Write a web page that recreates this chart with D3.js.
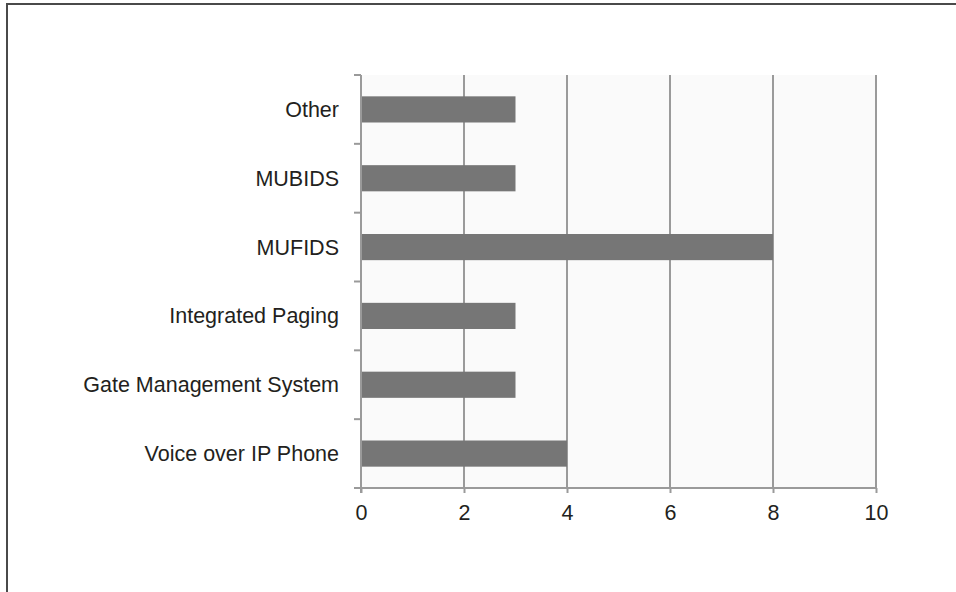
<!DOCTYPE html>
<html><head><meta charset="utf-8">
<script src="https://cdn.jsdelivr.net/npm/d3@7"></script>
<style>body{margin:0;background:#fff}svg{display:block}</style>
</head><body>
<script>
const categories = ["Other","MUBIDS","MUFIDS","Integrated Paging","Gate Management System","Voice over IP Phone"];
const values = [3,3,8,3,3,4];
const xTicks = [0,2,4,6,8,10];

const W=956,H=592;
const svg=d3.select("body").append("svg").attr("width",W).attr("height",H);
const m={l:361,r:876,t:75,b:488};
const font="'Liberation Sans', Arial, sans-serif";

// frame
svg.append("line").attr("x1",7).attr("x2",7).attr("y1",3).attr("y2",H).attr("stroke","#4a4a4a").attr("stroke-width",2);
svg.append("line").attr("x1",6).attr("x2",W).attr("y1",4).attr("y2",4).attr("stroke","#4a4a4a").attr("stroke-width",2);

const x=d3.scaleLinear().domain([0,10]).range([m.l,m.r]);
const y=d3.scaleBand().domain(categories).range([m.t,m.b]).paddingInner(0.62).paddingOuter(0.31);

svg.append("rect").attr("x",m.l).attr("y",m.t).attr("width",m.r-m.l).attr("height",m.b-m.t).attr("fill","#fafafa");

// gridlines
svg.append("g").selectAll("line").data(xTicks.slice(1)).join("line")
 .attr("x1",d=>x(d)).attr("x2",d=>x(d)).attr("y1",m.t).attr("y2",m.b)
 .attr("stroke","#9a9a9a").attr("stroke-width",2);

// bars
svg.append("g").selectAll("rect").data(values).join("rect")
 .attr("x",x(0)).attr("y",(d,i)=>y(categories[i]))
 .attr("width",d=>x(d)-x(0)).attr("height",y.bandwidth())
 .attr("fill","#767676");

// bottom axis
const xa=svg.append("g").attr("transform",`translate(0,${m.b})`)
 .call(d3.axisBottom(x).tickValues(xTicks).tickSize(5).tickPadding(12).tickSizeOuter(0));
xa.select(".domain").remove();
xa.selectAll(".tick line").attr("stroke","#9a9a9a").attr("stroke-width",2);
xa.selectAll("text").attr("font-family",font).attr("font-size",21.5).attr("fill","#231f20");
svg.append("line").attr("x1",354).attr("x2",m.r).attr("y1",m.b).attr("y2",m.b).attr("stroke","#9a9a9a").attr("stroke-width",2);

// left axis
const step=y.step();
const bounds=d3.range(categories.length+1).map(i=>m.t+i*step);
svg.append("line").attr("x1",m.l).attr("x2",m.l).attr("y1",m.t).attr("y2",m.b+5).attr("stroke","#9a9a9a").attr("stroke-width",2);
svg.append("g").selectAll("line").data(bounds).join("line")
 .attr("x1",354).attr("x2",m.l).attr("y1",d=>d).attr("y2",d=>d)
 .attr("stroke","#9a9a9a").attr("stroke-width",2);
svg.append("g").selectAll("text").data(categories).join("text")
 .attr("x",339).attr("y",d=>y(d)+y.bandwidth()/2).attr("dy","0.35em")
 .attr("text-anchor","end").attr("font-family",font).attr("font-size",21.5).attr("fill","#231f20")
 .text(d=>d);
</script>
</body></html>
